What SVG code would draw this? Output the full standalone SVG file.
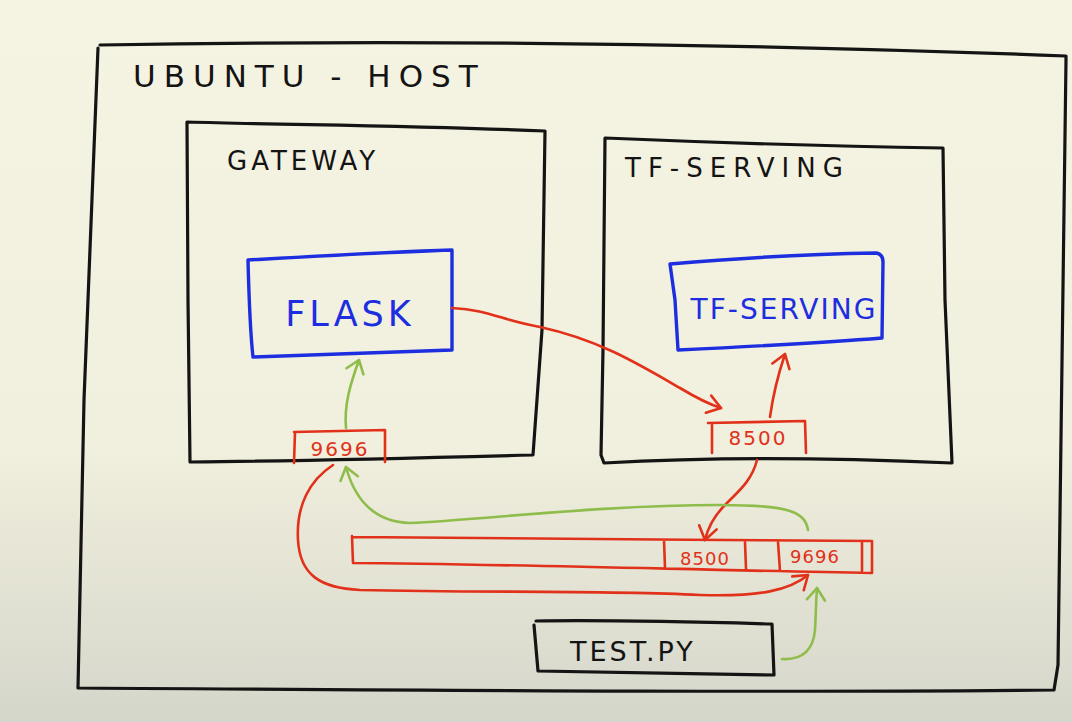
<svg xmlns="http://www.w3.org/2000/svg" width="1072" height="722" viewBox="0 0 1072 722">
<defs>
<linearGradient id="bg" x1="0" y1="0" x2="0" y2="1">
<stop offset="0" stop-color="#f5f3e1"/>
<stop offset="0.62" stop-color="#f1efdd"/>
<stop offset="1" stop-color="#d5d6cb"/>
</linearGradient>
<marker id="ar" viewBox="-16 -12 20 24" refX="0" refY="0" markerWidth="20" markerHeight="24" markerUnits="userSpaceOnUse" orient="auto">
<path d="M-13,-9 L0,0 L-13,9" fill="none" stroke="#e2311a" stroke-width="2.6" stroke-linecap="round" stroke-linejoin="round"/>
</marker>
<marker id="ag" viewBox="-16 -12 20 24" refX="0" refY="0" markerWidth="20" markerHeight="24" markerUnits="userSpaceOnUse" orient="auto">
<path d="M-12,-9 L0,0 L-12,9" fill="none" stroke="#8fbd4c" stroke-width="2.6" stroke-linecap="round" stroke-linejoin="round"/>
</marker>
</defs>
<style>
.blk{fill:none;stroke:#141414;stroke-width:3.2;stroke-linejoin:round;stroke-linecap:round}
.blu{fill:none;stroke:#1c2ee0;stroke-width:3.4;stroke-linejoin:round;stroke-linecap:round}
.red{fill:none;stroke:#e2311a;stroke-width:2.6;stroke-linejoin:round;stroke-linecap:round}
.grn{fill:none;stroke:#8fbd4c;stroke-width:2.6;stroke-linecap:round}
.tb{font-family:"DejaVu Sans",sans-serif;fill:#141414;font-weight:normal}
.tblue{font-family:"DejaVu Sans",sans-serif;fill:#1c2ee0}
.tred{font-family:"DejaVu Sans",sans-serif;fill:#e2311a}
</style>
<rect width="1072" height="722" fill="url(#bg)"/>

<g id="host">
<path class="blk" d="M100,45 C400,40 700,42 1066,56 L1066,60 L1058,665 L1054,690 C760,693 400,690 78,688 L84,400 L98,48"/>
<text class="tb" x="133" y="87" font-size="31" letter-spacing="8">UBUNTU - HOST</text>
</g>

<g id="gateway">
<path class="blk" d="M187,122 C300,125 420,126 545,131 L542,330 L533,455 C420,458 300,461 190,462 L188,300 Z"/>
<text class="tb" x="227" y="170" font-size="26" letter-spacing="4">GATEWAY</text>
</g>

<g id="tfserving-host">
<path class="blk" d="M605,138 C700,142 820,146 943,148 L945,300 L952,463 C840,458 720,456 604,463 L601,455 L603,350 Z"/>
<text class="tb" x="625" y="177" font-size="26" letter-spacing="7">TF-SERVING</text>
</g>

<g id="flask">
<path class="blu" d="M248,260 C320,256 390,252 452,250 L452,350 C380,352 310,355 253,357 C250,330 249,300 248,260 Z"/>
<text class="tblue" x="350" y="326" font-size="35" text-anchor="middle" letter-spacing="4">FLASK</text>
</g>

<g id="tfserving">
<path class="blu" d="M670,264 C740,258 810,254 876,253 C882,254 883,258 883,262 L882,338 C820,343 740,347 678,350 L675,300 Z"/>
<text class="tblue" x="784" y="319" font-size="28" text-anchor="middle" letter-spacing="2">TF-SERVING</text>
</g>

<g id="port-9696-gateway">
<path class="red" d="M294,432 L385,430 L385,462 M295,432 L294,463"/>
<text class="tred" x="340" y="456" font-size="20" text-anchor="middle" letter-spacing="2">9696</text>
</g>

<g id="port-8500-tf">
<path class="red" d="M708,423 L805,421 L806,453 M712,423 L712,453"/>
<text class="tred" x="758" y="445" font-size="20" text-anchor="middle" letter-spacing="2">8500</text>
</g>

<g id="host-ports">
<path class="red" d="M353,537 C500,538 700,540 872,541 L872,573 C700,570 500,564 353,563 L352,536 M664,540 L665,568 M745,542 L746,569 M778,542 L780,571 M862,541 L862,571"/>
<text class="tred" x="705" y="565" font-size="18" text-anchor="middle" letter-spacing="1">8500</text>
<text class="tred" x="815" y="563" font-size="18" text-anchor="middle" letter-spacing="1">9696</text>
</g>

<g id="testpy">
<path class="blk" d="M536,621 C600,620 700,622 772,624 L774,675 C700,674 600,672 538,671 L534,625"/>
<text class="tb" x="570" y="661" font-size="27" letter-spacing="3">TEST.PY</text>
</g>

<g id="connectors">
<path class="red" marker-end="url(#ar)" d="M452,308 C490,310 500,320 540,327 C600,340 640,365 680,388 C695,397 708,404 721,408"/>
<path class="red" marker-end="url(#ar)" d="M770,417 C773,395 778,375 785,354"/>
<path class="red" marker-end="url(#ar)" d="M757,460 C752,480 740,490 725,505 C715,515 708,527 705,540"/>
<path class="red" marker-end="url(#ar)" d="M333,465 C310,480 296,505 298,540 C300,575 320,588 360,590 C480,593 600,590 700,595 C760,597 790,590 808,575"/>
<path class="grn" marker-end="url(#ag)" d="M782,659 C800,660 813,652 815,630 C816,612 816,600 817,588"/>
<path class="grn" marker-end="url(#ag)" d="M808,530 C805,512 790,505 720,505 C600,505 480,520 410,523 C375,522 355,500 346,467"/>
<path class="grn" marker-end="url(#ag)" d="M346,428 C344,405 350,385 359,360"/>
</g>
</svg>
